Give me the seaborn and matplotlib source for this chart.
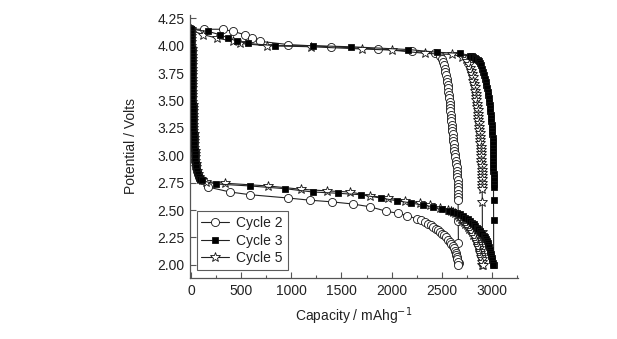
import matplotlib
matplotlib.use("Agg")
import matplotlib.pyplot as plt
from matplotlib.lines import Line2D
from matplotlib.ticker import MultipleLocator
import seaborn as sns
import pandas as pd

sns.set_theme(style="white")
plt.rcParams['font.family'] = ['Liberation Sans', 'DejaVu Sans']

# ---------------- data ----------------
# initial steep part shared by the lower branches (capacity, potential)
drop_cap = [0, 1, 2, 3, 4, 4.5, 5, 5.5, 6, 6.5, 7, 7.5, 8, 8.5, 9, 9.5, 10, 11,
            11.5, 12, 13, 13.5, 14, 15, 16, 17, 18, 19, 20, 21, 22, 24, 26, 28,
            30, 32, 34, 36, 38, 41, 44, 48, 53, 60, 68, 80, 92, 105]
drop_v = [4.15, 4.12, 4.09, 4.06, 4.03, 4.00, 3.97, 3.94, 3.91, 3.88, 3.85, 3.82,
          3.79, 3.76, 3.73, 3.70, 3.67, 3.64, 3.61, 3.58, 3.55, 3.52, 3.49, 3.46,
          3.43, 3.40, 3.37, 3.34, 3.31, 3.28, 3.25, 3.22, 3.19, 3.16, 3.13, 3.10,
          3.07, 3.04, 3.01, 2.98, 2.95, 2.92, 2.89, 2.86, 2.83, 2.80, 2.78, 2.77]

# Cycle 2
c2_up_cap = [0, 130, 316, 422, 538, 605, 688, 970, 1400, 1860, 2200, 2430,
             2483, 2500, 2512, 2520, 2528, 2536, 2543, 2549, 2554, 2559, 2563,
             2567, 2571, 2574, 2578, 2581, 2584, 2587, 2590, 2593, 2596, 2599,
             2602, 2605, 2608, 2611, 2614, 2618, 2622, 2626, 2631, 2636, 2640,
             2644, 2648, 2651, 2653, 2655, 2657, 2658, 2659, 2660, 2661, 2662,
             2663, 2664, 2666, 2668]
c2_up_v = [4.15, 4.15, 4.15, 4.13, 4.10, 4.07, 4.04, 4.01, 3.99, 3.97, 3.95, 3.93,
           3.91, 3.88, 3.85, 3.82, 3.79, 3.76, 3.73, 3.70, 3.67, 3.64, 3.61,
           3.58, 3.55, 3.52, 3.49, 3.46, 3.43, 3.40, 3.37, 3.34, 3.31, 3.28,
           3.25, 3.22, 3.19, 3.16, 3.13, 3.10, 3.07, 3.04, 3.01, 2.98, 2.95,
           2.92, 2.89, 2.86, 2.83, 2.80, 2.77, 2.74, 2.71, 2.68, 2.65, 2.62,
           2.59, 2.40, 2.20, 2.02]
c2_lo_cap = [170, 389, 588, 967, 1186, 1403, 1615, 1785, 1944, 2064, 2153, 2250,
             2290, 2333, 2365, 2390, 2415, 2440, 2462, 2485, 2505, 2525, 2545,
             2563, 2580, 2595, 2608, 2620, 2630, 2638, 2645, 2651, 2656, 2660, 2665]
c2_lo_v = [2.71, 2.665, 2.64, 2.61, 2.59, 2.575, 2.555, 2.53, 2.49, 2.47, 2.45, 2.42,
           2.405, 2.39, 2.375, 2.36, 2.345, 2.33, 2.315, 2.30, 2.285, 2.27, 2.25,
           2.23, 2.21, 2.19, 2.17, 2.15, 2.13, 2.11, 2.09, 2.07, 2.05, 2.03, 2.00]

# Cycle 3
c3_up_cap = [0, 172, 289, 372, 462, 571, 837, 1215, 1600, 2167, 2456, 2682,
             2782, 2800, 2815, 2830, 2845, 2858, 2870, 2881, 2892, 2902, 2912,
             2921, 2930, 2938, 2945, 2952, 2958, 2963, 2968, 2972, 2976, 2980,
             2984, 2987, 2990, 2993, 2996, 2999, 3002, 3004, 3006, 3008, 3010,
             3011, 3012, 3013, 3014, 3014, 3015, 3015, 3015, 3016, 3016, 3016,
             3016, 3016, 3016, 3017, 3017]
c3_up_v = [4.15, 4.13, 4.10, 4.07, 4.04, 4.02, 4.00, 4.00, 3.99, 3.965, 3.94, 3.93,
           3.91, 3.905, 3.90, 3.89, 3.88, 3.87, 3.86, 3.84, 3.82, 3.79, 3.76,
           3.73, 3.70, 3.67, 3.64, 3.61, 3.58, 3.55, 3.52, 3.49, 3.46, 3.43,
           3.40, 3.37, 3.34, 3.31, 3.28, 3.25, 3.22, 3.19, 3.16, 3.13, 3.10,
           3.07, 3.04, 3.01, 2.98, 2.95, 2.92, 2.89, 2.86, 2.83, 2.80, 2.77,
           2.74, 2.71, 2.59, 2.41, 2.00]
c3_lo_cap = [246, 588, 937, 1213, 1469, 1692, 1891, 2050, 2193, 2310, 2413, 2500,
             2570, 2610, 2650, 2682, 2710, 2735, 2760, 2780, 2800, 2820, 2835,
             2849, 2865, 2880, 2893, 2905, 2918, 2930, 2940, 2948, 2957, 2965,
             2972, 2978, 2984, 2990, 2995, 2999, 3003, 3006, 3010]
c3_lo_v = [2.738, 2.72, 2.695, 2.665, 2.653, 2.64, 2.61, 2.585, 2.565, 2.545, 2.53, 2.51,
           2.495, 2.485, 2.47, 2.46, 2.445, 2.43, 2.415, 2.40, 2.385, 2.37, 2.355,
           2.34, 2.325, 2.31, 2.295, 2.28, 2.265, 2.25, 2.235, 2.22, 2.20, 2.18,
           2.16, 2.14, 2.12, 2.10, 2.08, 2.06, 2.04, 2.02, 2.00]

# Cycle 5
c5_up_cap = [0, 123, 256, 419, 489, 760, 1200, 1700, 2000, 2333, 2600, 2700,
             2740, 2755, 2768, 2780, 2790, 2800, 2808, 2815, 2822, 2828, 2833,
             2838, 2842, 2846, 2850, 2854, 2857, 2860, 2863, 2866, 2869, 2872,
             2875, 2878, 2881, 2884, 2886, 2888, 2890, 2892, 2894, 2895, 2896,
             2897, 2898, 2899, 2900, 2901, 2901, 2902, 2903, 2904, 2905, 2906]
c5_up_v = [4.14, 4.10, 4.07, 4.04, 4.02, 4.00, 3.99, 3.97, 3.96, 3.93, 3.92, 3.90,
           3.88, 3.86, 3.83, 3.80, 3.77, 3.74, 3.71, 3.68, 3.65, 3.62, 3.59,
           3.56, 3.53, 3.50, 3.47, 3.44, 3.41, 3.38, 3.35, 3.32, 3.29, 3.26,
           3.23, 3.20, 3.17, 3.14, 3.11, 3.08, 3.05, 3.02, 2.99, 2.96, 2.93,
           2.90, 2.87, 2.84, 2.81, 2.78, 2.75, 2.72, 2.69, 2.57, 2.30, 2.00]
c5_lo_cap = [150, 339, 768, 1097, 1353, 1585, 1785, 1964, 2133, 2283, 2383, 2483,
             2560, 2590, 2610, 2630, 2649, 2670, 2690, 2705, 2720, 2735, 2749,
             2762, 2775, 2788, 2800, 2816, 2832, 2842, 2850, 2858, 2866, 2873,
             2880, 2886, 2892, 2896, 2900, 2904, 2908]
c5_lo_v = [2.76, 2.745, 2.72, 2.69, 2.675, 2.665, 2.63, 2.61, 2.585, 2.565, 2.545, 2.52,
           2.50, 2.49, 2.48, 2.47, 2.455, 2.44, 2.42, 2.405, 2.39, 2.375, 2.36,
           2.345, 2.33, 2.315, 2.30, 2.275, 2.25, 2.23, 2.21, 2.19, 2.17, 2.15,
           2.13, 2.11, 2.09, 2.07, 2.05, 2.03, 2.00]

labels = ["Cycle 2", "Cycle 3", "Cycle 5"]
x_ticks = [0, 500, 1000, 1500, 2000, 2500, 3000]
y_ticks = [2.00, 2.25, 2.50, 2.75, 3.00, 3.25, 3.50, 3.75, 4.00, 4.25]

# ---------------- plotting ----------------
fig = plt.figure(figsize=(6.17, 3.39), dpi=100)
ax = fig.add_axes([190 / 617, 1 - 278 / 339, 328 / 617, 263 / 339])

styles = {
    "Cycle 2": dict(marker="o", markersize=5.8, markerfacecolor="white"),
    "Cycle 3": dict(marker="s", markersize=4.8, markerfacecolor="black"),
    "Cycle 5": dict(marker="*", markersize=7.5, markerfacecolor="white"),
}

series = [
    ("Cycle 2", c2_up_cap, c2_up_v), ("Cycle 2", drop_cap + c2_lo_cap, drop_v + c2_lo_v),
    ("Cycle 5", c5_up_cap, c5_up_v), ("Cycle 5", drop_cap + c5_lo_cap, drop_v + c5_lo_v),
    ("Cycle 3", c3_up_cap, c3_up_v), ("Cycle 3", drop_cap + c3_lo_cap, drop_v + c3_lo_v),
]

for name, caps, vs in series:
    df = pd.DataFrame({"cap": caps, "v": vs})
    sns.lineplot(data=df, x="cap", y="v", sort=False, estimator=None, ax=ax,
                 color="#222222", linewidth=0.8, markeredgecolor="#111111",
                 markeredgewidth=0.6, **styles[name])

ax.set_xlim(-10, 3260)
ax.set_ylim(1.88, 4.28)
ax.set_xticks(x_ticks)
ax.set_yticks(y_ticks)
ax.set_yticklabels([f"{t:.2f}" for t in y_ticks])
ax.xaxis.set_minor_locator(MultipleLocator(250))

for s in ["top", "right"]:
    ax.spines[s].set_visible(False)
for s in ["left", "bottom"]:
    ax.spines[s].set_color("#555555")
    ax.spines[s].set_linewidth(0.9)

ax.tick_params(axis="both", which="major", direction="in", length=4, width=0.8,
               colors="#555555", labelcolor="#222222", labelsize=10, pad=4)
ax.tick_params(axis="x", which="minor", direction="in", length=2.5, width=0.8,
               colors="#555555")
ax.tick_params(axis="x", which="both", bottom=True)
ax.tick_params(axis="y", which="both", left=True)

ax.set_xlabel("Capacity / mAhg$^{-1}$", fontsize=10, color="#222222")
ax.set_ylabel("Potential / Volts", fontsize=10, color="#222222")
ax.xaxis.set_label_coords(0.5, -0.105)
ax.xaxis.label.set_va("top")
ax.yaxis.set_label_coords(-0.158, 0.5)

handles = [Line2D([], [], color="#222222", linewidth=0.8, markeredgecolor="#111111",
                  markeredgewidth=0.6, **styles[n]) for n in labels]
leg = ax.legend(handles, labels, loc="lower left", bbox_to_anchor=(0.02, 0.03),
                frameon=True, fancybox=False, fontsize=10, handlelength=2.0,
                handletextpad=0.5, borderpad=0.35, labelspacing=0.25,
                borderaxespad=0.0)
leg.get_frame().set_edgecolor("#333333")
leg.get_frame().set_linewidth(0.8)
for t in leg.get_texts():
    t.set_color("#222222")

ax.grid(False)
fig.savefig("out.png", dpi=100)
